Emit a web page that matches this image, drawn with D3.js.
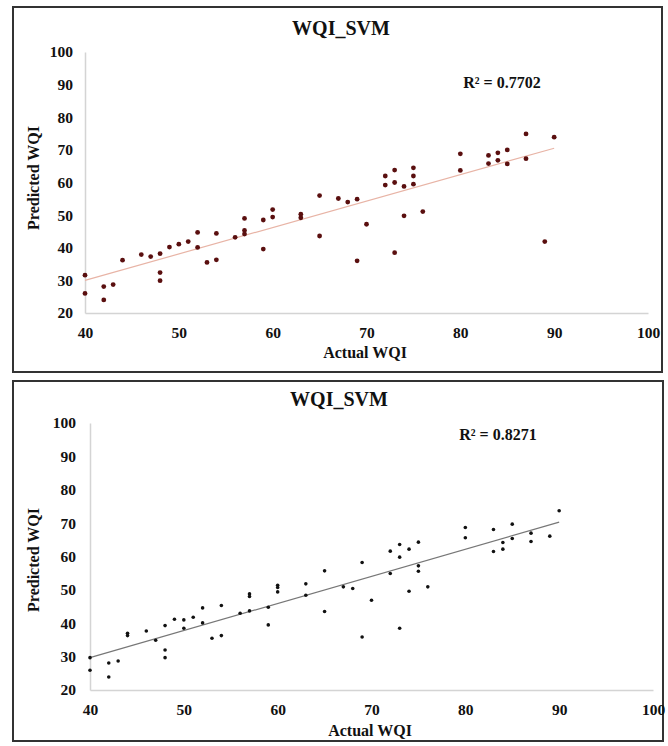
<!DOCTYPE html>
<html>
<head>
<meta charset="utf-8">
<script src="https://cdn.jsdelivr.net/npm/d3@7"></script>
<style>
   body { margin: 0; background: #fff; }
   text { font-family: "Liberation Serif", "Times New Roman", serif; font-weight: bold; fill: #111; }
   .tick text { font-size: 15.5px; }
   .title { font-size: 20px; }
   .axisTitle { font-size: 16px; }
   .rsq { font-size: 16px; }
</style>
</head>
<body>
<div id="chart"></div>
<script>
const width = 668;
const height = 746;

const xTicks = [40, 50, 60, 70, 80, 90, 100];
const yTicks = [20, 30, 40, 50, 60, 70, 80, 90, 100];

// panel 1 (red points)
const actualTop = [40, 40, 42, 42, 43, 44, 46, 47, 48, 48, 48, 49, 50, 51, 52, 52, 53, 54, 54, 56,
   57, 57, 57, 59, 59, 60, 60, 63, 63, 65, 65, 67, 68, 69, 69, 70, 72, 72, 73, 73, 73, 74, 74,
   75, 75, 75, 76, 80, 80, 83, 83, 84, 84, 85, 85, 87, 87, 89, 90];
const predictedTop = [31.6, 26.0, 28.1, 24.0, 28.7, 36.2, 37.9, 37.3, 38.2, 32.4, 29.9, 40.2, 41.1, 41.9, 44.7, 40.1, 35.5, 44.4, 36.3, 43.2,
   49.0, 45.3, 44.2, 48.5, 39.6, 51.7, 49.4, 50.3, 49.2, 56.0, 43.6, 55.1, 54.0, 54.9, 36.0, 47.2, 62.0, 59.2, 63.8, 60.0, 38.5, 58.8, 49.8,
   64.5, 62.0, 59.5, 51.1, 68.8, 63.7, 68.3, 65.8, 69.1, 66.8, 70.0, 65.7, 74.9, 67.3, 41.9, 73.9];
const trendTop = [[40, 30.0], [90, 70.5]];

// panel 2 (black points)
const actualBottom = [40, 40, 42, 42, 43, 44, 44, 46, 47, 48, 48, 48, 49, 50, 50, 51, 52, 52, 53, 54, 54, 56,
   57, 57, 57, 59, 59, 60, 60, 60, 63, 63, 65, 65, 67, 68, 69, 69, 70, 72, 72, 73, 73, 73, 74, 74,
   75, 75, 75, 76, 80, 80, 83, 83, 84, 84, 85, 85, 87, 87, 89, 90];
const predictedBottom = [29.7, 25.9, 28.1, 23.9, 28.7, 37.0, 36.3, 37.7, 34.9, 39.3, 32.0, 29.7, 41.2, 41.0, 38.5, 41.8, 44.6, 40.1, 35.5, 45.3, 36.3, 43.0,
   48.8, 48.0, 43.7, 44.8, 39.5, 51.4, 50.7, 49.4, 51.8, 48.4, 55.7, 43.5, 50.9, 50.4, 58.2, 35.9, 46.9, 61.6, 54.9, 63.6, 59.8, 38.5, 62.2, 49.6,
   64.3, 57.2, 55.6, 50.9, 68.7, 65.6, 68.1, 61.5, 64.2, 62.2, 69.7, 65.4, 67.0, 64.5, 66.1, 73.7];
const trendBottom = [[40, 29.7], [90, 70.3]];

const svg = d3.select("#chart").append("svg")
   .attr("width", width)
   .attr("height", height);

function drawPanel(p) {
   const g = svg.append("g");

   g.append("rect")
      .attr("x", p.box[0]).attr("y", p.box[1])
      .attr("width", p.box[2]).attr("height", p.box[3])
      .style("fill", "#fff")
      .style("stroke", "#333")
      .style("stroke-width", 2);

   const x = d3.scaleLinear().domain([40, 100]).range(p.xr);
   const y = d3.scaleLinear().domain([20, 100]).range(p.yr);

   const xAxis = g.append("g")
      .attr("transform", `translate(0,${p.yr[0]})`)
      .call(d3.axisBottom(x).tickValues(xTicks).tickSize(0).tickPadding(14));
   const yAxis = g.append("g")
      .attr("transform", `translate(${p.xr[0]},0)`)
      .call(d3.axisLeft(y).tickValues(yTicks).tickSize(0).tickPadding(p.ypad));
   [xAxis, yAxis].forEach(a => {
      a.select(".domain").style("stroke", "#d4d4d4").style("stroke-width", 1.5);
      a.selectAll("text").style("fill", "#111");
   });

   const line = d3.line().x(d => x(d[0])).y(d => y(d[1]));
   g.append("path")
      .datum(p.trend)
      .attr("d", line)
      .style("fill", "none")
      .style("stroke", p.lineColor)
      .style("stroke-width", 1.2);

   g.selectAll("circle.pt")
      .data(p.xs.map((d, i) => [d, p.ys[i]]))
      .enter()
      .append("circle")
      .attr("class", "pt")
      .attr("cx", d => x(d[0]))
      .attr("cy", d => y(d[1]))
      .attr("r", p.r)
      .style("fill", p.dotColor);

   g.append("text")
      .attr("class", "title")
      .attr("x", p.titlePos[0]).attr("y", p.titlePos[1])
      .style("text-anchor", "middle")
      .text("WQI_SVM");

   g.append("text")
      .attr("class", "rsq")
      .attr("x", p.rsqPos[0]).attr("y", p.rsqPos[1])
      .style("text-anchor", "middle")
      .text(p.rsq);

   g.append("text")
      .attr("class", "axisTitle")
      .attr("x", p.xTitlePos[0]).attr("y", p.xTitlePos[1])
      .style("text-anchor", "middle")
      .text("Actual WQI");

   g.append("text")
      .attr("class", "axisTitle")
      .attr("transform", `translate(${p.yTitlePos[0]},${p.yTitlePos[1]}) rotate(-90)`)
      .style("text-anchor", "middle")
      .text("Predicted WQI");
}

drawPanel({
   box: [13, 7, 649, 365],
   xr: [85, 648], yr: [313, 52], ypad: 12,
   xs: actualTop, ys: predictedTop, trend: trendTop,
   dotColor: "#5a0f0f", r: 2.4, lineColor: "#e8b4a6",
   titlePos: [341, 35], rsqPos: [502, 88], rsq: "R² = 0.7702",
   xTitlePos: [365, 358], yTitlePos: [39, 178]
});

drawPanel({
   box: [13, 381, 650, 360],
   xr: [90, 653], yr: [690, 423], ypad: 14,
   xs: actualBottom, ys: predictedBottom, trend: trendBottom,
   dotColor: "#111", r: 1.8, lineColor: "#777",
   titlePos: [339, 406], rsqPos: [498, 440], rsq: "R² = 0.8271",
   xTitlePos: [370, 736], yTitlePos: [39, 560]
});
</script>
</body>
</html>
